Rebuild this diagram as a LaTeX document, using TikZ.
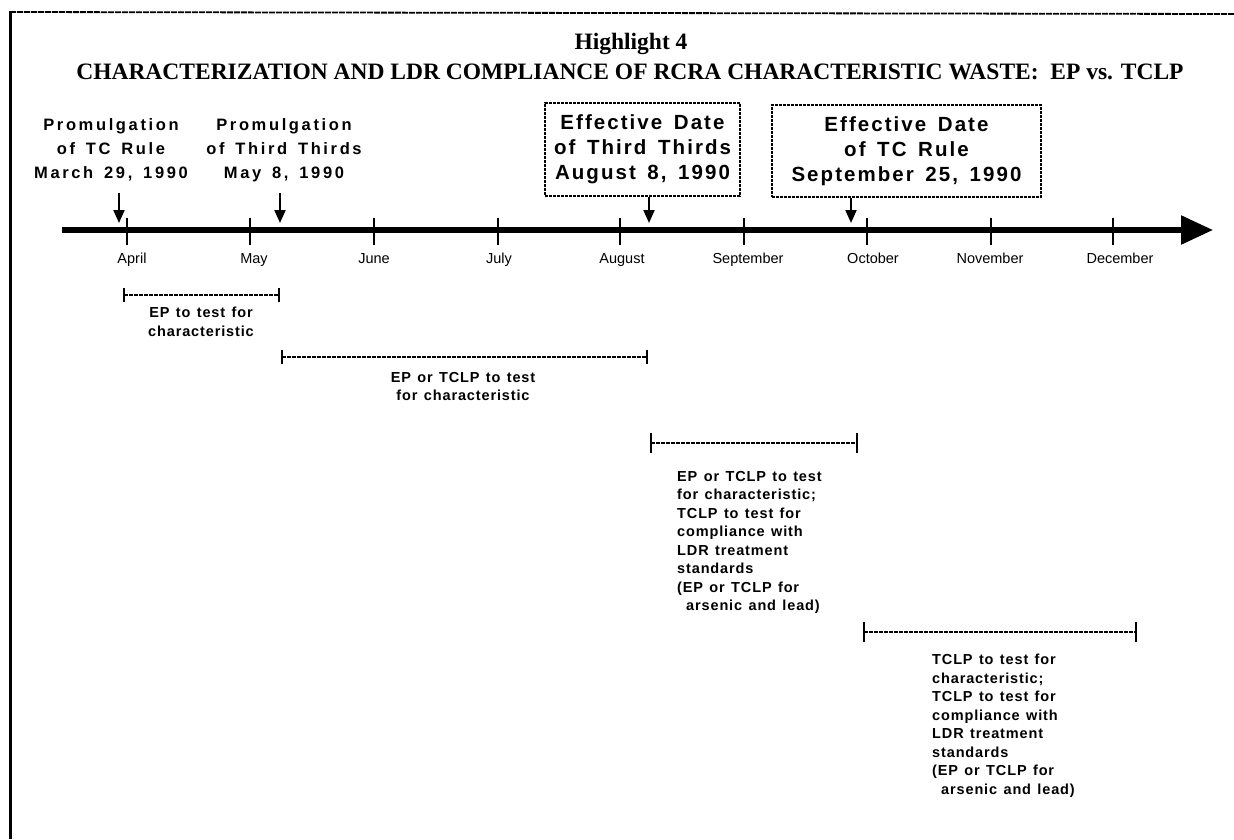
\documentclass[tikz,border=0pt]{standalone}
\usepackage{fontspec}
\setmainfont{Liberation Serif}
\newfontfamily\promfont[LetterSpace=16,WordSpace=1.5]{Liberation Sans}
\newfontfamily\boxfont[LetterSpace=10,WordSpace=1.5]{Liberation Sans}
\newfontfamily\spanfont[LetterSpace=6,WordSpace=1.3]{Liberation Sans}
\newfontfamily\monthfont{Liberation Sans}
\usetikzlibrary{arrows.meta}
\begin{document}
\begin{tikzpicture}[x=1pt,y=-1pt,
  titlestyle/.style={font=\bfseries\fontsize{23.5}{28}\selectfont, inner sep=0},
  promstyle/.style={font=\promfont\bfseries\fontsize{16.5}{24}\selectfont, align=center, inner sep=0},
  datebox/.style={draw, line width=1.3pt, dash pattern=on 3pt off 1pt,
    font=\boxfont\bfseries\fontsize{20.5}{25}\selectfont, align=center, inner sep=0},
  pointer/.style={line width=2pt, -{Triangle[width=11pt,length=13pt]}},
  monthtick/.style={line width=1.8pt},
  monthlabel/.style={font=\monthfont\fontsize{14.5}{17}\selectfont, inner sep=0, anchor=base},
  interval/.style={line width=1.6pt, dash pattern=on 4pt off 1pt,
    {Bar[width=#1,line width=1.8pt]}-{Bar[width=#1,line width=1.8pt]}},
  interval/.default=14pt,
  spantext/.style={font=\spanfont\bfseries\fontsize{14.5}{18.5}\selectfont, inner sep=0},
]
\useasboundingbox (0,0) rectangle (1234,839);
\fill[white] (0,0) rectangle (1234,839);

% border
\draw[line width=1.8pt, dash pattern=on 6pt off 1pt] (10,12) -- (1234,14);
\draw[line width=3pt] (10,11) -- (10,839);

% title
\node[titlestyle] (title1) at (631,44) {Highlight 4};
\node[titlestyle] (title2) at (630,72) {CHARACTERIZATION AND LDR COMPLIANCE OF RCRA CHARACTERISTIC WASTE:\ \ EP vs. TCLP};

% event labels
\node[promstyle] (prom1) at (111,150) {Promulgation\\of TC Rule\\March 29, 1990};
\node[promstyle] (prom2) at (284,150) {Promulgation\\of Third Thirds\\May 8, 1990};
\node[datebox, minimum width=195pt, minimum height=93pt] (box1) at (642.5,149.5)
  {Effective Date\\of Third Thirds\\August 8, 1990};
\node[datebox, minimum width=269pt, minimum height=92pt] (box2) at (906.5,151)
  {Effective Date\\of TC Rule\\September 25, 1990};

% timeline
\coordinate (tlstart) at (62,230);
\coordinate (tlend) at (1213,230);
\draw[line width=5.5pt, -{Triangle[width=28pt,length=32pt]}] (tlstart) -- (tlend);

\foreach \x/\lx/\name [count=\i] in {127/132/April,250/254/May,374/374/June,498/499/July,
  620/622/August,744/748/September,867/873/October,991/990/November,1113/1120/December}{
  \draw[monthtick] (\x,218) -- (\x,245);
  \node[monthlabel] (m\i) at (\lx,263) {\name};
}

% pointers
\coordinate (p1) at (119,193);
\coordinate (t1) at (119,223);
\coordinate (p2) at (280,193);
\coordinate (t2) at (280,223);
\coordinate (t3) at (649,223);
\coordinate (t4) at (851,223);
\draw[pointer] (p1) -- (t1);
\draw[pointer] (p2) -- (t2);
\draw[pointer] (box1.south -| t3) -- (t3);
\draw[pointer] (box2.south -| t4) -- (t4);

% intervals
\coordinate (s1a) at (123,295); \coordinate (s1b) at (280,295);
\coordinate (s2a) at (281,357); \coordinate (s2b) at (648,357);
\coordinate (s3a) at (650,443); \coordinate (s3b) at (858,443);
\coordinate (s4a) at (863,632); \coordinate (s4b) at (1137,632);
\draw[interval] (s1a) -- (s1b);
\draw[interval] (s2a) -- (s2b);
\draw[interval=20pt] (s3a) -- (s3b);
\draw[interval=20pt] (s4a) -- (s4b);

\node[spantext, align=center, anchor=north] (s1t) at (201,307) {EP to test for\\characteristic};
\node[spantext, align=center, anchor=north] (s2t) at (463,372) {EP or TCLP to test\\for characteristic};
\node[spantext, align=left, anchor=north west] (s3t) at (677,471)
  {EP or TCLP to test\\for characteristic;\\TCLP to test for\\compliance with\\LDR treatment\\standards\\(EP or TCLP for\\\hspace*{9pt}arsenic and lead)};
\node[spantext, align=left, anchor=north west] (s4t) at (932,654)
  {TCLP to test for\\characteristic;\\TCLP to test for\\compliance with\\LDR treatment\\standards\\(EP or TCLP for\\\hspace*{9pt}arsenic and lead)};
\end{tikzpicture}
\end{document}
